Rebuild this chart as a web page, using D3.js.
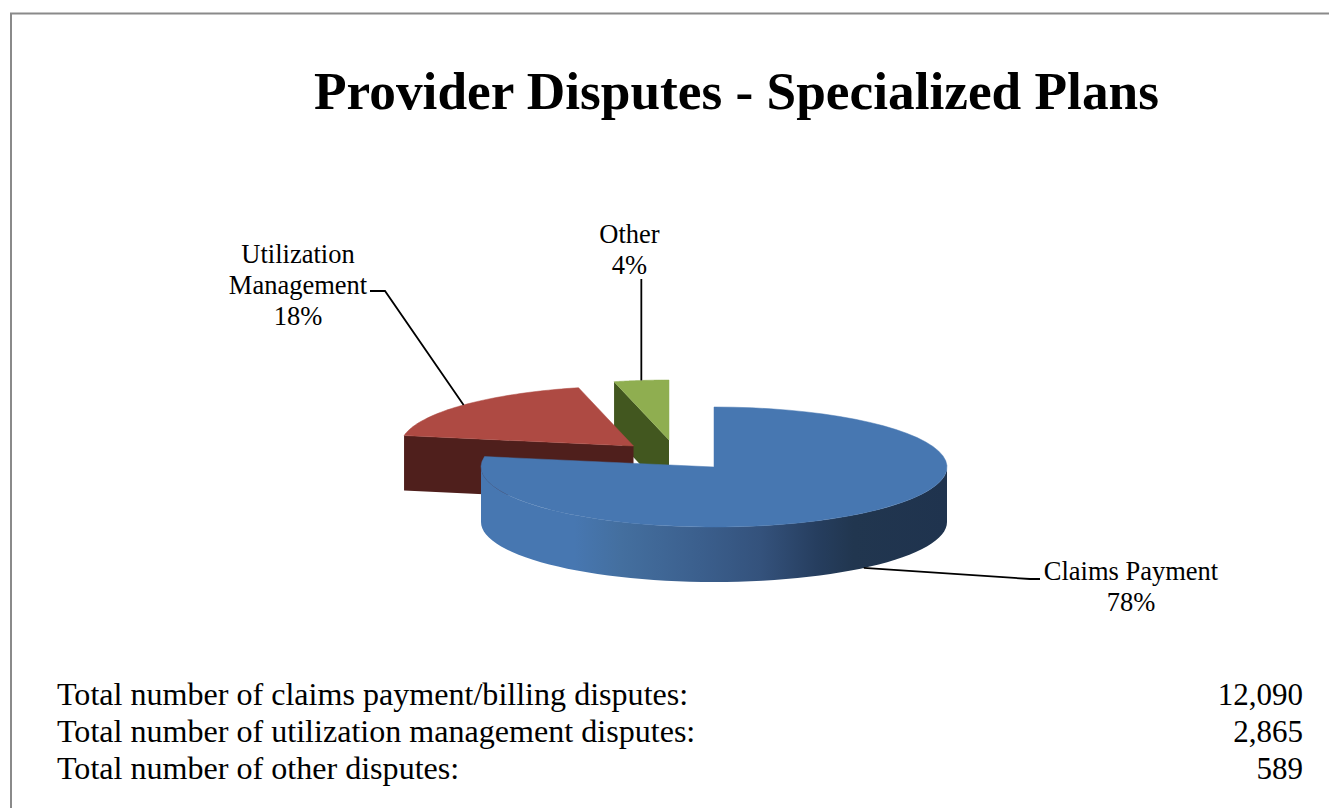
<!DOCTYPE html>
<html>
<head>
<meta charset="utf-8">
<script src="https://cdn.jsdelivr.net/npm/d3@7"></script>
<style>
    html, body { margin: 0; padding: 0; background: #fff; }
    text { font-family: "Liberation Serif", serif; fill: #000; }
</style>
</head>
<body>
<svg id="chart" width="1329" height="808"></svg>
<script>
const title = 'Provider Disputes - Specialized Plans';
const categories = ['Claims Payment', 'Utilization Management', 'Other'];
const disputes = [12090, 2865, 589];
const percents = ['78%', '18%', '4%'];
const tableLabels = [
    'Total number of claims payment/billing disputes:',
    'Total number of utilization management disputes:',
    'Total number of other disputes:'
];
const topColors = ['#4777b1', '#ae4a43', '#8fae50'];
const sideColors = ['url(#claimsSide)', '#4f1f1c', '#42571f'];

const svg = d3.select('#chart');
const depth = 55;

// each slice is pulled out of the pie on its own
const centers = [[714, 467], [633.5, 446], [669, 440]];

const rx = d3.scaleLinear().domain([-1, 1]).range([-233, 233]);
const ry = d3.scaleLinear().domain([-1, 1]).range([-60, 60]);

const slices = d3.pie().sort(null)(disputes);

function rim(i, angle, drop) {
    return [
        centers[i][0] + rx(Math.sin(angle)),
        centers[i][1] - ry(Math.cos(angle)) + (drop || 0)
    ];
}

function arcPoints(i, a0, a1, drop) {
    return d3.range(61).map(k => rim(i, a0 + (a1 - a0) * k / 60, drop));
}

const line = d3.line();

// side gradient of the big slice
const grad = svg.append('defs').append('linearGradient')
    .attr('id', 'claimsSide')
    .attr('gradientUnits', 'userSpaceOnUse')
    .attr('x1', 481).attr('x2', 947).attr('y1', 0).attr('y2', 0);

[[0, '#4777b1'], [0.2, '#4777b1'], [0.3, '#446f9f'], [0.47, '#3b5f8d'],
    [0.6, '#34527c'], [0.72, '#263e5f'], [0.8, '#21364f'], [1, '#1f334e']].forEach(s => {
    grad.append('stop').attr('offset', s[0]).attr('stop-color', s[1]);
});

svg.append('path')
    .attr('d', 'M11,808V13.5H1329')
    .attr('fill', 'none')
    .attr('stroke', '#8a8a8a')
    .attr('stroke-width', 2);

svg.append('text')
    .attr('x', 736.5).attr('y', 109)
    .attr('text-anchor', 'middle')
    .attr('font-size', 53.3)
    .attr('font-weight', 'bold')
    .text(title);

// back slices first, claims payment sits in front
[2, 1, 0].forEach(i => {
    const s = slices[i];
    const g = svg.append('g');
    const apex = centers[i];

    if (i === 0) {
        // wall runs to the left extreme of the ellipse, then straight up to the cut corner
        const a0 = Math.PI / 2, a1 = 3 * Math.PI / 2;
        const corner = [rim(i, a1)[0], rim(i, s.endAngle)[1] + 2];
        const pts = arcPoints(i, a0, a1, 0)
            .concat([corner])
            .concat(arcPoints(i, a1, a0, depth));
        g.append('path').attr('d', line(pts) + 'Z').attr('fill', sideColors[i]);
    } else {
        // cut face that looks to the viewer
        const p = rim(i, s.startAngle);
        const pts = [p, apex, [apex[0], apex[1] + depth], [p[0], p[1] + depth]];
        g.append('path').attr('d', line(pts) + 'Z').attr('fill', sideColors[i]);
    }

    const top = [apex].concat(arcPoints(i, s.startAngle, s.endAngle, 0));
    g.append('path')
        .attr('d', line(top) + 'Z')
        .attr('fill', topColors[i])
        .attr('stroke', topColors[i])
        .attr('stroke-width', 0.5);
});

// leader lines start from the middle of each slice
const mid = slices.map(s => (s.startAngle + s.endAngle) / 2);
const leaders = [
    [rim(0, mid[0], depth), [1030, 579], [1040, 579]],
    [rim(1, mid[1]), [385, 291], [370, 291]],
    [rim(2, mid[2]), [rim(2, mid[2])[0], 279]]
];

svg.selectAll('path.leader')
    .data(leaders)
    .join('path')
    .attr('class', 'leader')
    .attr('d', d => line(d))
    .attr('fill', 'none')
    .attr('stroke', '#000')
    .attr('stroke-width', 1.8);

const labelLines = [
    {x: 1131, y: 580, lines: ['Claims Payment', percents[0]]},
    {x: 298, y: 263, lines: ['Utilization', 'Management', percents[1]]},
    {x: 629.5, y: 243, lines: [categories[2], percents[2]]}
];

labelLines.forEach(l => {
    svg.append('g').selectAll('text')
        .data(l.lines)
        .join('text')
        .attr('x', l.x)
        .attr('y', (d, k) => l.y + k * 31)
        .attr('text-anchor', 'middle')
        .attr('font-size', 26.5)
        .text(d => d);
});

const rowY = d3.scalePoint().domain(tableLabels).range([705, 779]);

svg.selectAll('text.row')
    .data(tableLabels)
    .join('text')
    .attr('class', 'row')
    .attr('x', 57)
    .attr('y', d => rowY(d))
    .attr('font-size', 32.1)
    .text(d => d);

svg.selectAll('text.count')
    .data(disputes)
    .join('text')
    .attr('class', 'count')
    .attr('x', 1303)
    .attr('y', (d, i) => rowY(tableLabels[i]))
    .attr('text-anchor', 'end')
    .attr('font-size', 31)
    .text(d => d3.format(',')(d));
</script>
</body>
</html>
